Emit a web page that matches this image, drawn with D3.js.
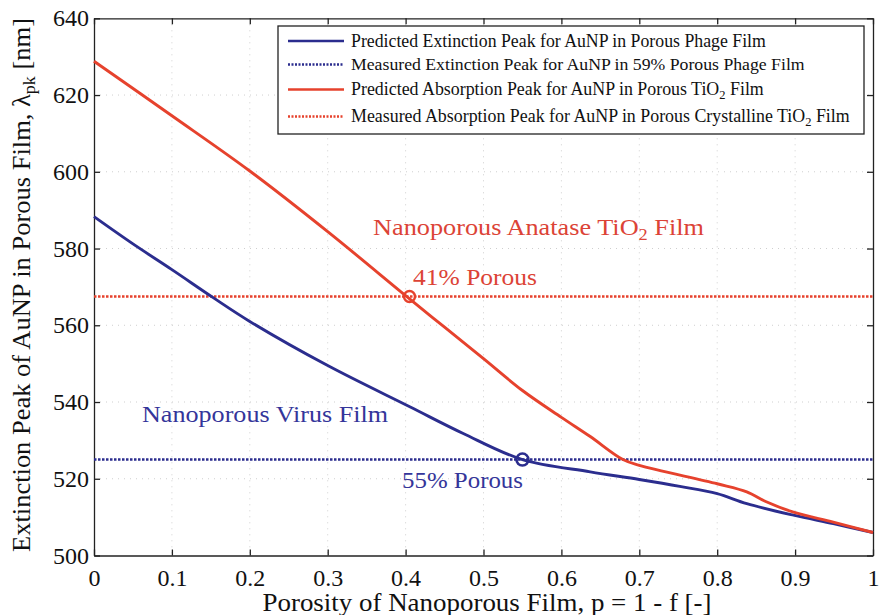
<!DOCTYPE html>
<html><head><meta charset="utf-8">
<script src="https://cdn.jsdelivr.net/npm/d3@7"></script>
<style>body{margin:0;background:#fff}svg{display:block}text{font-family:"Liberation Serif","DejaVu Serif",serif}</style>
</head><body><svg id="c" width="880" height="615"></svg>
<script>
// ---- data ----
const xTicks = [0,0.1,0.2,0.3,0.4,0.5,0.6,0.7,0.8,0.9,1];
const xTickLabels = ["0","0.1","0.2","0.3","0.4","0.5","0.6","0.7","0.8","0.9","1"];
const yTicks = [500,520,540,560,580,600,620,640];
const porosityPhage = [0,0.05,0.1,0.153,0.2,0.3,0.406,0.474,0.55,0.637,0.7,0.752,0.8,0.838,0.898,0.949,1];
const peakPhage = [588.3,581.2,574.5,567.2,561,549.5,538.7,531.8,525,521.8,519.8,518,516.1,513.5,510.5,508.3,506];
const porosityTiO2 = [0,0.1,0.2,0.3,0.402,0.45,0.5,0.55,0.6,0.637,0.679,0.7,0.8,0.838,0.863,0.898,0.949,1];
const peakTiO2 = [628.8,614.6,600.2,584.4,567.4,559.5,551.3,543,536,531,525,523.5,518.7,516.6,514,511.3,508.7,506];
const measuredPhage = 525, measuredPhagePorosity = 0.55;
const measuredTiO2 = 567.5, measuredTiO2Porosity = 0.405;
const legendLabels = [
  "Predicted Extinction Peak for AuNP in Porous Phage Film",
  "Measured Extinction Peak for AuNP in 59% Porous Phage Film",
  "Predicted Absorption Peak for AuNP in Porous TiO|2| Film",
  "Measured Absorption Peak for AuNP in Porous Crystalline TiO|2| Film"];

const BLUE="#2b2d8e", RED="#e6422d", BLUET="#34359a", REDT="#dc4336";
const svg=d3.select("#c");
const x=d3.scaleLinear().domain([0,1]).range([94,873]);
const y=d3.scaleLinear().domain([500,640]).range([555.5,18.3]);
const L=x.range()[0],R=x.range()[1],T=y.range()[1],B=y.range()[0];

// grid
const g=svg.append("g").attr("stroke","#cfcfcf").attr("stroke-width",1).attr("stroke-dasharray","1,5");
xTicks.slice(1,-1).forEach(t=>g.append("line").attr("x1",x(t)).attr("x2",x(t)).attr("y1",T).attr("y2",B));
yTicks.slice(1,-1).forEach(t=>g.append("line").attr("y1",y(t)).attr("y2",y(t)).attr("x1",L).attr("x2",R));

// axes
svg.append("g").attr("transform",`translate(0,${B})`).call(d3.axisBottom(x).tickValues(xTicks).tickFormat((d,i)=>xTickLabels[i]).tickSizeInner(-6).tickSizeOuter(0).tickPadding(13));
svg.append("g").attr("transform",`translate(0,${T})`).call(d3.axisTop(x).tickValues(xTicks).tickFormat("").tickSizeInner(-6).tickSizeOuter(0));
svg.append("g").attr("transform",`translate(${L},0)`).call(d3.axisLeft(y).tickValues(yTicks).tickSizeInner(-6).tickSizeOuter(0).tickPadding(5));
svg.append("g").attr("transform",`translate(${R},0)`).call(d3.axisRight(y).tickValues(yTicks).tickFormat("").tickSizeInner(-6).tickSizeOuter(0));
svg.selectAll(".domain").attr("stroke","#222").attr("stroke-width",1.3);
svg.selectAll(".tick line").attr("stroke","#222").attr("stroke-width",1.3);
svg.selectAll(".tick text").attr("font-size",24).attr("fill","#111").attr("font-family","Liberation Serif, serif");

// measured lines
svg.append("line").attr("x1",L).attr("x2",R).attr("y1",y(measuredTiO2)).attr("y2",y(measuredTiO2)).attr("stroke",RED).attr("stroke-width",2.6).attr("stroke-dasharray","2.5,1.5");
svg.append("line").attr("x1",L).attr("x2",R).attr("y1",y(measuredPhage)).attr("y2",y(measuredPhage)).attr("stroke",BLUE).attr("stroke-width",2.6).attr("stroke-dasharray","2.5,1.5");

// curves
const line=d3.line().x(d=>x(d[0])).y(d=>y(d[1])).curve(d3.curveCatmullRom.alpha(0.5));
svg.append("path").attr("d",line(d3.zip(porosityPhage,peakPhage))).attr("fill","none").attr("stroke",BLUE).attr("stroke-width",2.9);
svg.append("path").attr("d",line(d3.zip(porosityTiO2,peakTiO2))).attr("fill","none").attr("stroke",RED).attr("stroke-width",2.9);

// circles
svg.append("circle").attr("cx",x(measuredTiO2Porosity)).attr("cy",y(measuredTiO2)).attr("r",5.5).attr("fill","none").attr("stroke",RED).attr("stroke-width",2.4);
svg.append("circle").attr("cx",x(measuredPhagePorosity)).attr("cy",y(measuredPhage)).attr("r",6).attr("fill","none").attr("stroke",BLUE).attr("stroke-width",2.6);

// helper for text with subscript segments marked by |..|
function rich(sel,str,size){
  const parts=str.split("|");
  parts.forEach((p,i)=>{
    if(!p) return;
    const ts=sel.append("tspan").text(p);
    if(i%2===1){ts.attr("font-size",size*0.7).attr("dy",size*0.22);}
    else if(i>0){ts.attr("dy",-size*0.22);}
  });
  return sel;
}
function fit(t,w){t.attr("textLength",w).attr("lengthAdjust","spacingAndGlyphs");}
function scaleTo(t,w,size){const cur=t.node().getComputedTextLength();const s=size*w/cur;t.attr("font-size",s);t.selectAll("tspan").each(function(){const ts=d3.select(this);const fs=ts.attr("font-size");if(fs){ts.attr("font-size",fs*w/cur);const dy=ts.attr("dy");if(dy)ts.attr("dy",dy*w/cur);}});}

// annotations
let t;
t=rich(svg.append("text").attr("x",373).attr("y",235).attr("fill",REDT).attr("font-size",23),"Nanoporous Anatase TiO|2| Film",23); fit(t,331);
t=svg.append("text").attr("x",413).attr("y",285).attr("fill",REDT).attr("font-size",23).text("41% Porous"); fit(t,124);
t=svg.append("text").attr("x",142).attr("y",422).attr("fill",BLUET).attr("font-size",23).text("Nanoporous Virus Film"); fit(t,246);
t=svg.append("text").attr("x",402).attr("y",488).attr("fill",BLUET).attr("font-size",23).text("55% Porous"); fit(t,121);

// legend
svg.append("rect").attr("x",278).attr("y",26).attr("width",586).attr("height",108).attr("fill","#fff").attr("stroke","#222").attr("stroke-width",1.3);
const rows=[41,64.5,89.5,116.5];
const lstyle=[[BLUE,null],[BLUE,"2,1.5"],[RED,null],[RED,"2,1.5"]];
const lw=[415,454,413,499];
rows.forEach((ry,i)=>{
  svg.append("line").attr("x1",288).attr("x2",344).attr("y1",ry).attr("y2",ry).attr("stroke",lstyle[i][0]).attr("stroke-width",2.6).attr("stroke-dasharray",lstyle[i][1]);
  const tt=rich(svg.append("text").attr("x",351).attr("y",ry+5.5).attr("font-size",17).attr("fill","#111"),legendLabels[i],17);
  scaleTo(tt,lw[i],17);
});

// axis titles
t=svg.append("text").attr("x",487).attr("y",611).attr("text-anchor","middle").attr("font-size",25).attr("fill","#111").text("Porosity of Nanoporous Film, p = 1 - f [-]"); fit(t,449);
const yt=svg.append("text").attr("transform","translate(30,285) rotate(-90)").attr("text-anchor","middle").attr("font-size",25).attr("fill","#111");
yt.append("tspan").text("Extinction Peak of AuNP in Porous Film, λ");
yt.append("tspan").text("pk").attr("font-size",17).attr("dy",5);
yt.append("tspan").text(" [nm]").attr("dy",-5);
fit(yt,534);
</script></body></html>
